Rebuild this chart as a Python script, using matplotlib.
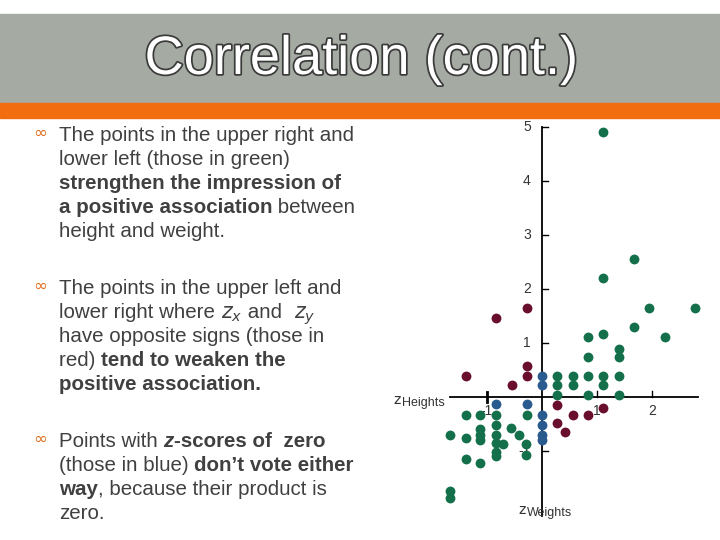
import matplotlib
matplotlib.use("Agg")
import matplotlib.pyplot as plt
from matplotlib.patches import Rectangle
import matplotlib.patheffects as pe

green_x = [1.11,1.67,1.11,1.95,2.78,1.67,2.24,0.84,1.11,0.84,1.40,1.40,
           0.28,0.56,0.84,1.11,1.40,0.28,0.56,1.11,0.28,0.84,1.40,
           -1.38,-1.12,-0.83,-0.27,-0.83,-1.67,-1.38,-1.12,-1.12,-1.12,-0.83,-0.56,-0.41,
           -0.83,-0.70,-0.29,-0.83,-0.83,-0.29,-1.38,-1.12,-1.67,-1.67]
green_y = [4.91,2.56,2.20,1.65,1.65,1.30,1.11,1.11,1.18,0.75,0.90,0.75,
           0.40,0.40,0.40,0.40,0.40,0.22,0.22,0.22,0.04,0.04,0.04,
           -0.33,-0.33,-0.33,-0.33,-0.51,-0.69,-0.76,-0.59,-0.69,-0.79,-0.69,-0.57,-0.69,
           -0.85,-0.87,-0.87,-1.01,-1.08,-1.06,-1.15,-1.22,-1.73,-1.86]
red_x = [-0.83,-0.27,-0.27,-0.27,-1.38,-0.54,0.28,1.12,0.28,0.56,0.84,0.42]
red_y = [1.47,1.65,0.57,0.40,0.40,0.22,-0.15,-0.19,-0.48,-0.33,-0.33,-0.65]
blue_x = [0,0,-0.83,-0.27,0,0,0,0]
blue_y = [0.40,0.22,-0.12,-0.12,-0.33,-0.52,-0.69,-0.79]
x_ticks = [-1, 1, 2]
y_ticks = [-1, 1, 2, 3, 4, 5]

fig = plt.figure(figsize=(7.2, 5.4), dpi=100)
fig.patch.set_facecolor("white")
fig.patches.append(Rectangle((0, 1-103/540), 1, 89/540, transform=fig.transFigure, color="#a5aba2", zorder=0))
fig.patches.append(Rectangle((0, 1-118/540), 1, 15/540, transform=fig.transFigure, color="#f26d10", zorder=0))
tfam = ["Liberation Sans Narrow", "Liberation Sans", "DejaVu Sans"]
fig.text(361/720, 1-60/540, "Correlation (cont.)", fontsize=39, color="white", family=tfam,
         ha="center", va="center",
         path_effects=[pe.withStroke(linewidth=2.5, foreground="#3a3a3a")])

ax = fig.add_axes([0.5385, 0.0143, 0.4583, 0.790])
ax.set_xlim(-2.8, 3.2); ax.set_ylim(-2.5, 5.4)
ax.axis("off")
ax.plot([-1.67, 2.85], [0, 0], color="black", lw=1.3)
ax.plot([0, 0], [-2.2, 5.0], color="black", lw=1.3)
for t in x_ticks:
    if t < 0:
        ax.plot([t, t], [-0.08, 0.1], color="black", lw=2)
    else:
        ax.plot([t, t], [0, 0.12], color="black", lw=1)
    ax.text(t, -0.12, f"{t}" if t > 0 else "-1", ha="center", va="top", fontsize=10, color="#333333", family=tfam)
for t in y_ticks:
    ax.plot([0, 0.12], [t, t], color="black", lw=1)
    ax.text(-0.2, t, f"{t}" if t > 0 else "-1", ha="right", va="center", fontsize=10, color="#333333", family=tfam)
ax.text(-2.7, -0.05, "z", fontsize=10, ha="left", va="center", color="#333333")
ax.text(-2.54, -0.1, "Heights", fontsize=9, ha="left", va="center", color="#333333", family=tfam)
ax.text(-0.42, -2.08, "z", fontsize=10, ha="left", va="center", color="#333333")
ax.text(-0.26, -2.15, "Weights", fontsize=9, ha="left", va="center", color="#333333", family=tfam)
s = 50
ax.scatter(green_x, green_y, s=s, color="#13704a", zorder=3, linewidths=0)
ax.scatter(red_x, red_y, s=s, color="#6a0e2e", zorder=3, linewidths=0)
ax.scatter(blue_x, blue_y, s=s, color="#2a5b8f", zorder=3, linewidths=0)

fig.canvas.draw()
renderer = fig.canvas.get_renderer()
fam = ["Liberation Sans", "DejaVu Sans"]
def line(y, runs, x0=59):
    x = x0
    for txt, w, st in runs:
        t = fig.text(x/720, 1-y/540, txt, fontsize=14.8, color="#404040", family=fam,
                     weight=w, style=st, va="baseline", ha="left")
        bb = t.get_window_extent(renderer)
        x += bb.width
N = ("normal", "normal"); B = ("bold", "normal")
def r(txt, k=N): return (txt, k[0], k[1])
blocks = [
    (141, [[r("The points in the upper right and")],
           [r("lower left (those in green)")],
           [r("strengthen the impression of", B)],
           [r("a positive association", B), r(" between")],
           [r("height and weight.")]]),
    (294, [[r("The points in the upper left and")],
           [r("lower right where "), r("$z_x$"), r(" and  "), r("$z_y$")],
           [r("have opposite signs (those in")],
           [r("red) "), r("tend to weaken the", B)],
           [r("positive association.", B)]]),
    (447, [[r("Points with "), r("z", ("bold", "italic")), r("-scores of  zero", B)],
           [r("(those in blue) "), r("don\u2019t vote either", B)],
           [r("way", B), r(", because their product is")],
           [r("zero.")]]),
]
for y0, lines in blocks:
    fig.text(33/720, 1-(y0-3)/540, "\u221e", fontsize=12, color="#e07020", ha="left", va="baseline")
    for i, runs in enumerate(lines):
        line(y0 + 24*i, runs)

fig.savefig("out.png", dpi=100)
